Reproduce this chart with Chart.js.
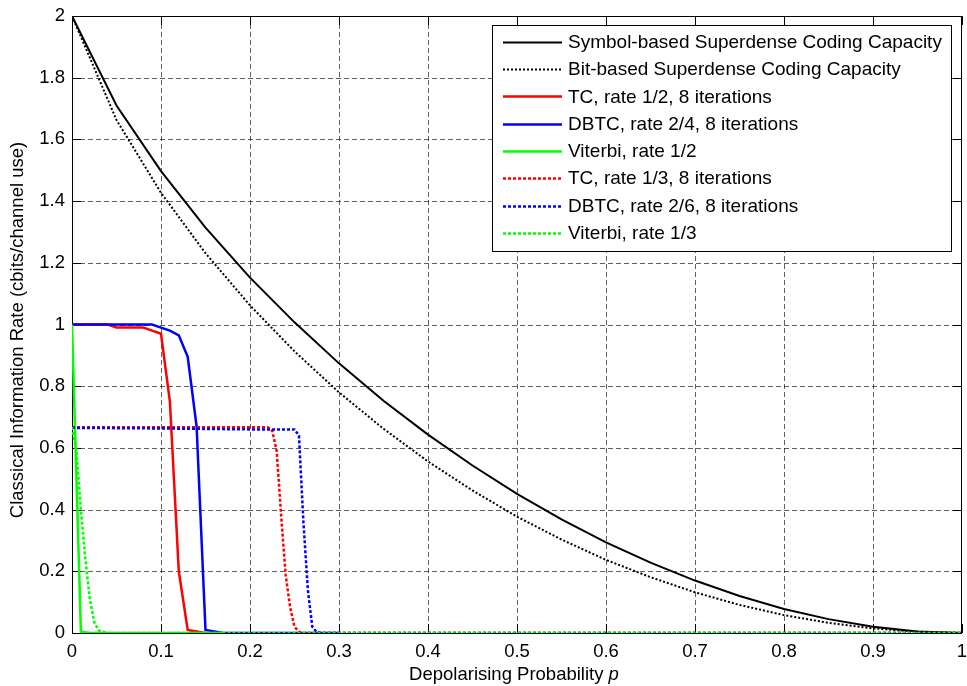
<!DOCTYPE html>
<html>
<head>
<meta charset="utf-8">
<script src="https://cdn.jsdelivr.net/npm/chart.js@4.4.1/dist/chart.umd.min.js"></script>
<style>
  html, body { margin: 0; padding: 0; background: #fff; }
  #wrap { width: 967px; height: 686px; }
</style>
</head>
<body>
<div id="wrap"><canvas id="c" width="967" height="686"></canvas></div>
<script>
// ---------- data ----------
const xTickLabels = ['0','0.1','0.2','0.3','0.4','0.5','0.6','0.7','0.8','0.9','1'];
const yTickLabels = ['0','0.2','0.4','0.6','0.8','1','1.2','1.4','1.6','1.8','2'];

const seriesLabels = [
  'Symbol-based Superdense Coding Capacity',
  'Bit-based Superdense Coding Capacity',
  'TC, rate 1/2, 8 iterations',
  'DBTC, rate 2/4, 8 iterations',
  'Viterbi, rate 1/2',
  'TC, rate 1/3, 8 iterations',
  'DBTC, rate 2/6, 8 iterations',
  'Viterbi, rate 1/3'
];

const capP = [0,0.05,0.1,0.15,0.2,0.25,0.3,0.35,0.4,0.45,0.5,0.55,0.6,0.65,0.7,0.75,0.8,0.85,0.9,0.95,1];
const symbolCap = [2,1.710,1.497,1.314,1.152,1.007,0.874,0.753,0.643,0.543,0.451,0.368,0.294,0.228,0.170,0.120,0.078,0.045,0.020,0.005,0];
const bitCap    = [2,1.663,1.427,1.231,1.062,0.913,0.780,0.662,0.556,0.462,0.377,0.303,0.237,0.181,0.132,0.091,0.058,0.033,0.015,0.004,0];

const tc12P = [0,0.04,0.05,0.08,0.09,0.10,0.11,0.12,0.13,0.14,0.15];
const tc12R = [1,1,0.99,0.99,0.98,0.97,0.75,0.20,0.01,0.005,0];

const dbtc24P = [0,0.09,0.10,0.11,0.12,0.13,0.14,0.15,0.16,0.17,0.2,0.25,0.3];
const dbtc24R = [1,1,0.99,0.98,0.965,0.895,0.67,0.01,0.005,0,0,0,0];

const vit12P = [0,0.01,0.02,0.05,0.1,0.15,0.17];
const vit12R = [1,0.004,0,0,0,0,0];

const tc13P = [0,0.05,0.1,0.15,0.2,0.22,0.225,0.23,0.235,0.24,0.245,0.25,0.255,0.26,0.3,0.4,0.5,0.6,0.7,0.8,0.9,1];
const tc13R = [0.667,0.667,0.667,0.667,0.667,0.667,0.655,0.59,0.38,0.19,0.085,0.02,0.004,0,0,0,0,0,0,0,0,0];

const dbtc26P = [0,0.1,0.2,0.25,0.255,0.26,0.265,0.27,0.275,0.28,0.3,0.4,0.5,0.6,0.7,0.8,0.9,1];
const dbtc26R = [0.665,0.663,0.66,0.66,0.64,0.36,0.14,0.02,0.003,0,0,0,0,0,0,0,0,0];

const vit13P = [0,0.005,0.01,0.015,0.02,0.025,0.03,0.04,0.1,0.2,0.3,0.4,0.5,0.6,0.7,0.8,0.9,1];
const vit13R = [0.667,0.59,0.40,0.24,0.11,0.035,0.008,0,0,0,0,0,0,0,0,0,0,0];

// ---------- chart ----------
const FONT = '"Liberation Sans", Arial, sans-serif';
const pts = (xs, ys) => xs.map((x, i) => ({ x: x, y: ys[i] }));

const styles = [
  { color: '#000000', width: 2,   dash: [] },
  { color: '#000000', width: 2,   dash: [2, 2] },
  { color: '#ff0000', width: 2.5, dash: [] },
  { color: '#0000ff', width: 2.5, dash: [] },
  { color: '#00ff00', width: 2.5, dash: [] },
  { color: '#ff0000', width: 2.5, dash: [3, 2] },
  { color: '#0000ff', width: 2.5, dash: [3, 2] },
  { color: '#00ff00', width: 2.5, dash: [3, 2] }
];
const seriesData = [
  pts(capP, symbolCap), pts(capP, bitCap),
  pts(tc12P, tc12R), pts(dbtc24P, dbtc24R), pts(vit12P, vit12R),
  pts(tc13P, tc13R), pts(dbtc26P, dbtc26R), pts(vit13P, vit13R)
];

const datasets = seriesData.map((d, i) => ({
  label: seriesLabels[i],
  data: d,
  borderColor: styles[i].color,
  backgroundColor: styles[i].color,
  borderWidth: styles[i].width,
  borderDash: styles[i].dash,
  pointRadius: 0,
  tension: 0,
  fill: false,
  order: seriesData.length - i
}));

const decoPlugin = {
  id: 'deco',
  beforeDatasetsDraw(chart) {
    const { ctx, chartArea: a, scales: { x, y } } = chart;
    ctx.save();
    // grid
    ctx.strokeStyle = 'rgba(0,0,0,0.62)';
    ctx.lineWidth = 1;
    ctx.setLineDash([5, 3]);
    xTickLabels.forEach(t => {
      const v = Number(t);
      if (v <= 0 || v >= 1) return;
      const px = Math.round(x.getPixelForValue(v)) + 0.5;
      ctx.beginPath(); ctx.moveTo(px, a.top); ctx.lineTo(px, a.bottom); ctx.stroke();
    });
    yTickLabels.forEach(t => {
      const v = Number(t);
      if (v <= 0 || v >= 2) return;
      const py = Math.round(y.getPixelForValue(v)) + 0.5;
      ctx.beginPath(); ctx.moveTo(a.left, py); ctx.lineTo(a.right, py); ctx.stroke();
    });
    // box
    ctx.setLineDash([]);
    ctx.strokeStyle = '#000';
    ctx.strokeRect(Math.round(a.left) + 0.5, Math.round(a.top) + 0.5,
                   Math.round(a.right - a.left) - 1, Math.round(a.bottom - a.top));
    // inward ticks
    const TL = 9;
    xTickLabels.forEach(t => {
      const px = Math.round(x.getPixelForValue(Number(t))) + 0.5;
      ctx.beginPath();
      ctx.moveTo(px, a.bottom); ctx.lineTo(px, a.bottom - TL);
      ctx.moveTo(px, a.top); ctx.lineTo(px, a.top + TL);
      ctx.stroke();
    });
    yTickLabels.forEach(t => {
      const py = Math.round(y.getPixelForValue(Number(t))) + 0.5;
      ctx.beginPath();
      ctx.moveTo(a.left, py); ctx.lineTo(a.left + TL, py);
      ctx.moveTo(a.right, py); ctx.lineTo(a.right - TL, py);
      ctx.stroke();
    });
    ctx.restore();
  },
  afterDraw(chart) {
    const { ctx } = chart;
    ctx.save();
    // legend
    const L = { left: 492, top: 25, right: 951, bottom: 251 };
    ctx.fillStyle = '#fff';
    ctx.fillRect(L.left, L.top, L.right - L.left, L.bottom - L.top);
    ctx.strokeStyle = '#000';
    ctx.lineWidth = 1;
    ctx.setLineDash([]);
    ctx.strokeRect(L.left + 0.5, L.top + 0.5, L.right - L.left, L.bottom - L.top);
    ctx.font = '19px ' + FONT;
    ctx.textAlign = 'left';
    ctx.textBaseline = 'middle';
    chart.data.datasets.forEach((ds, i) => {
      const cy = 41.7 + 27.3 * i;
      ctx.strokeStyle = ds.borderColor;
      ctx.lineWidth = ds.borderWidth;
      ctx.setLineDash(ds.borderDash);
      ctx.beginPath(); ctx.moveTo(503, Math.round(cy) + 0.5); ctx.lineTo(562, Math.round(cy) + 0.5); ctx.stroke();
      ctx.setLineDash([]);
      ctx.fillStyle = '#000';
      ctx.fillText(ds.label, 568, cy + 1);
    });
    // x axis title with italic p
    ctx.font = '18.5px ' + FONT;
    ctx.textBaseline = 'alphabetic';
    const t1 = 'Depolarising Probability ';
    const w1 = ctx.measureText(t1).width;
    ctx.font = 'italic 18.5px ' + FONT;
    const w2 = ctx.measureText('p').width;
    const x0 = 514 - (w1 + w2) / 2;
    ctx.fillStyle = '#000';
    ctx.font = '18.5px ' + FONT;
    ctx.fillText(t1, x0, 680);
    ctx.font = 'italic 18.5px ' + FONT;
    ctx.fillText('p', x0 + w1, 680);
    // y axis title
    ctx.translate(18, 330);
    ctx.rotate(-Math.PI / 2);
    ctx.font = '18.5px ' + FONT;
    ctx.textAlign = 'center';
    ctx.textBaseline = 'middle';
    ctx.fillText('Classical Information Rate (cbits/channel use)', 0, 0);
    ctx.restore();
  }
};

new Chart(document.getElementById('c'), {
  type: 'line',
  data: { datasets: datasets },
  options: {
    responsive: false,
    devicePixelRatio: 1,
    animation: false,
    events: [],
    layout: { padding: { top: 16, right: 5, left: 0, bottom: 0 } },
    plugins: { legend: { display: false }, tooltip: { enabled: false } },
    scales: {
      x: {
        type: 'linear', min: 0, max: 1,
        grid: { display: false, drawTicks: false },
        border: { display: false },
        afterBuildTicks: s => { s.ticks = xTickLabels.map(t => ({ value: Number(t) })); },
        afterFit: s => { s.height = 53; s.paddingLeft = 0; s.paddingRight = 0; },
        ticks: {
          autoSkip: false, maxRotation: 0, padding: 8, color: '#000',
          font: { family: FONT, size: 18.5 },
          callback: v => xTickLabels.find(t => Math.abs(Number(t) - v) < 1e-9)
        }
      },
      y: {
        type: 'linear', min: 0, max: 2,
        grid: { display: false, drawTicks: false },
        border: { display: false },
        afterBuildTicks: s => { s.ticks = yTickLabels.map(t => ({ value: Number(t) })); },
        afterFit: s => { s.width = 72; s.paddingTop = 0; s.paddingBottom = 0; },
        ticks: {
          autoSkip: false, padding: 7, color: '#000',
          font: { family: FONT, size: 18.5 },
          callback: v => yTickLabels.find(t => Math.abs(Number(t) - v) < 1e-9)
        }
      }
    }
  },
  plugins: [decoPlugin]
});
</script>
</body>
</html>
